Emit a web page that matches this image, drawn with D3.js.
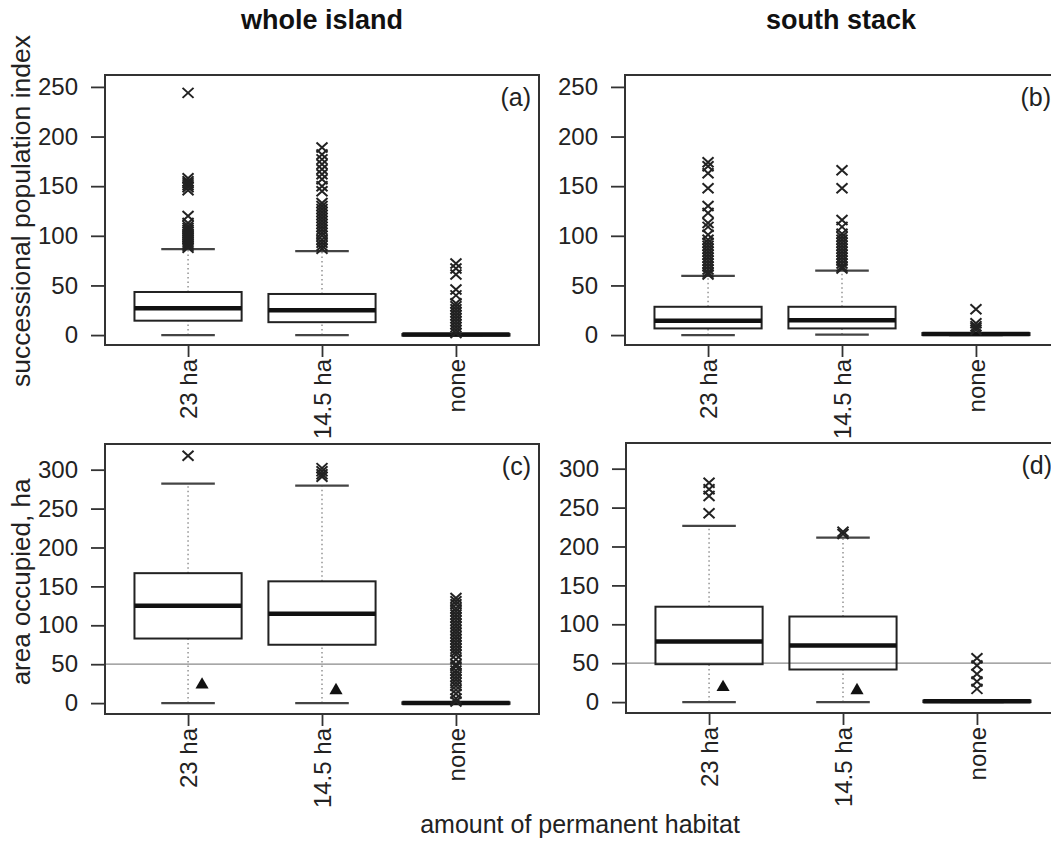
<!DOCTYPE html>
<html>
<head>
<meta charset="utf-8">
<script src="https://cdnjs.cloudflare.com/ajax/libs/d3/7.8.5/d3.min.js"></script>
<style>
    body { margin: 0; background: #fff; }
    svg { display: block; font-family: "Liberation Sans", Arial, sans-serif; }
</style>
</head>
<body>
<div id="chart"></div>
<script>

// categories on the x axis
const groups = ["23 ha", "14.5 ha", "none"];

// box stats per group: [lower whisker, q1, median, q3, upper whisker]
const statsA = [[0, 14.5, 27, 43.4, 86.5], [0, 13, 25, 41.4, 84.5], [0, 0, 0.5, 1, 1]];
const statsB = [[0, 6.7, 14.4, 28.5, 59.7], [0.5, 6.7, 15, 28.5, 65], [0, 0, 1, 2, 2]];
const statsC = [[0, 83, 125, 167, 282], [0, 75, 115, 156.5, 279.5], [0, 0, 0, 1, 1]];
const statsD = [[0, 48.7, 78, 122.6, 226.5], [0, 41.9, 72.6, 110, 211.5], [0, 0, 1, 2, 2]];

// outliers per group
const outliersA = [
    [244, 158, 155, 153, 151, 149, 146, 120, 113, 110, 108, 106, 104, 102, 100, 98, 96, 94, 92, 90, 88],
    [189, 182, 177, 172, 167, 162, 157, 150, 145, 133, 130, 127, 124, 121, 118, 115, 112, 109, 106, 103, 100, 96, 93, 90, 87],
    [72, 67, 61, 46, 40, 32, 29, 26, 23, 20, 17, 14, 11, 8, 5, 2]
];
const outliersB = [
    [174, 170, 163, 148, 130, 123, 113, 109, 101, 96, 93, 90, 87, 84, 81, 78, 75, 72, 69, 66, 63, 61],
    [166, 148, 116, 109, 102, 99, 96, 93, 90, 87, 84, 81, 78, 75, 72, 69, 67],
    [26, 12, 9, 7, 5]
];
const outliersC = [
    [318],
    [302, 298, 294, 291],
    [135, 131, 127, 122, 118, 114, 110, 106, 102, 98, 94, 90, 86, 82, 78, 74, 70, 66, 62, 56, 50, 47, 42, 38, 34, 30, 26, 22, 17, 12, 6, 2]
];
const outliersD = [
    [282, 273.5, 265, 242.7],
    [219, 216],
    [56.4, 47, 36, 26.5, 17]
];

// mean markers (triangles), only in the area panels
const meansC = [23.6, 16.3];
const meansD = [19, 15];

// axis ticks and limits
const ticksTop = [0, 50, 100, 150, 200, 250];
const ticksBottom = [0, 50, 100, 150, 200, 250, 300];
const domainTop = [-10, 262];
const domainBottom = [-14, 333];


class BoxPanel {

    constructor(_svg, _frame, _yDomain, _yTicks, _stats, _outliers, _means, _label, _refLine) {
        this.svg = _svg;
        this.frame = _frame;
        this.yDomain = _yDomain;
        this.yTicks = _yTicks;
        this.stats = _stats;
        this.outliers = _outliers;
        this.means = _means;
        this.label = _label;
        this.refLine = _refLine;

        this.initVis();
    }

    initVis() {
        let vis = this;
        let f = vis.frame;

        vis.x = d3.scaleLinear().domain([0.38, 3.62]).range([f.x, f.x + f.w]);
        vis.y = d3.scaleLinear().domain(vis.yDomain).range([f.y + f.h, f.y]);
        vis.unit = vis.x(2) - vis.x(1);

        vis.g = vis.svg.append("g");

        // y axis
        vis.g.append("g")
            .attr("transform", `translate(${f.x},0)`)
            .call(d3.axisLeft(vis.y).tickValues(vis.yTicks).tickSize(14).tickPadding(13))
            .call(g => g.select(".domain").remove())
            .call(g => g.selectAll("line").attr("stroke", "#333").attr("stroke-width", 1.8))
            .call(g => g.selectAll("text").attr("font-size", 24).attr("fill", "#222").attr("font-family", null));

        // x axis with rotated labels
        vis.g.append("g")
            .attr("transform", `translate(0,${f.y + f.h})`)
            .call(d3.axisBottom(vis.x).tickValues([1, 2, 3]).tickFormat(d => groups[d - 1]).tickSize(12))
            .call(g => g.select(".domain").remove())
            .call(g => g.selectAll("line").attr("stroke", "#333").attr("stroke-width", 1.8))
            .call(g => g.selectAll("text")
                .attr("font-size", 24).attr("fill", "#222").attr("font-family", null)
                .attr("transform", "rotate(-90)")
                .attr("x", -14).attr("y", 0).attr("dy", "0.35em")
                .style("text-anchor", "end"));

        if (vis.refLine !== null) {
            vis.g.append("line")
                .attr("x1", f.x).attr("x2", f.x + f.w)
                .attr("y1", vis.y(vis.refLine)).attr("y2", vis.y(vis.refLine))
                .attr("stroke", "#8a8a8a").attr("stroke-width", 1.3);
        }

        vis.updateVis();
    }

    updateVis() {
        let vis = this;
        let half = 0.4 * vis.unit;
        let cap = 0.2 * vis.unit;

        let box = vis.g.selectAll(".box")
            .data(vis.stats)
            .enter()
            .append("g")
            .attr("class", "box")
            .attr("transform", (d, i) => `translate(${vis.x(i + 1)},0)`);

        // dotted whiskers
        box.append("line")
            .attr("y1", d => vis.y(d[3])).attr("y2", d => vis.y(d[4]))
            .attr("stroke", "#777").attr("stroke-width", 1.2).attr("stroke-dasharray", "1.5,3");
        box.append("line")
            .attr("y1", d => vis.y(d[0])).attr("y2", d => vis.y(d[1]))
            .attr("stroke", "#777").attr("stroke-width", 1.2).attr("stroke-dasharray", "1.5,3");

        // staples
        [0, 4].forEach(k => {
            box.append("line")
                .attr("x1", -cap).attr("x2", cap)
                .attr("y1", d => vis.y(d[k])).attr("y2", d => vis.y(d[k]))
                .attr("stroke", "#444").attr("stroke-width", 2.2);
        });

        box.append("rect")
            .attr("x", -half).attr("width", 2 * half)
            .attr("y", d => vis.y(d[3]))
            .attr("height", d => Math.max(1.5, vis.y(d[1]) - vis.y(d[3])))
            .attr("fill", "none").attr("stroke", "#222").attr("stroke-width", 2);

        box.append("line")
            .attr("x1", -half).attr("x2", half)
            .attr("y1", d => vis.y(d[2])).attr("y2", d => vis.y(d[2]))
            .attr("stroke", "#111").attr("stroke-width", 4.5);

        // outliers drawn as x
        vis.outliers.forEach((vals, i) => {
            vis.g.selectAll(null)
                .data(vals)
                .enter()
                .append("path")
                .attr("transform", d => `translate(${vis.x(i + 1)},${vis.y(d)})`)
                .attr("d", "M-5.5,-5L5.5,5M-5.5,5L5.5,-5")
                .attr("stroke", "#222").attr("stroke-width", 2).attr("fill", "none");
        });

        // mean triangles, shifted right of the box centre
        vis.g.selectAll(".mean")
            .data(vis.means)
            .enter()
            .append("path")
            .attr("class", "mean")
            .attr("transform", (d, i) => `translate(${vis.x(i + 1) + 14},${vis.y(d)})`)
            .attr("d", d3.symbol(d3.symbolTriangle).size(75))
            .attr("fill", "#111");

        // frame and panel letter
        let f = vis.frame;
        vis.g.append("rect")
            .attr("x", f.x).attr("y", f.y).attr("width", f.w).attr("height", f.h)
            .attr("fill", "none").attr("stroke", "#333").attr("stroke-width", 2);

        vis.g.append("text")
            .attr("x", f.x + f.w - 8).attr("y", f.y + 31)
            .attr("text-anchor", "end").attr("font-size", 25).attr("fill", "#222")
            .text(vis.label);
    }
}


let svg = d3.select("#chart")
    .append("svg")
    .attr("width", 1051)
    .attr("height", 841);

new BoxPanel(svg, {x: 105, y: 75, w: 434, h: 270}, domainTop, ticksTop, statsA, outliersA, [], "(a)", null);
new BoxPanel(svg, {x: 625, y: 75, w: 434, h: 270}, domainTop, ticksTop, statsB, outliersB, [], "(b)", null);
new BoxPanel(svg, {x: 105, y: 444, w: 434, h: 270}, domainBottom, ticksBottom, statsC, outliersC, meansC, "(c)", 50);
new BoxPanel(svg, {x: 626, y: 443, w: 434, h: 270}, domainBottom, ticksBottom, statsD, outliersD, meansD, "(d)", 50);

// column titles
svg.append("text").attr("x", 322).attr("y", 29).attr("text-anchor", "middle")
    .attr("font-size", 27).attr("font-weight", "bold").attr("fill", "#111").text("whole island");
svg.append("text").attr("x", 841).attr("y", 29).attr("text-anchor", "middle")
    .attr("font-size", 27).attr("font-weight", "bold").attr("fill", "#111").text("south stack");

// axis titles
svg.append("text").attr("transform", "translate(30,211) rotate(-90)").attr("text-anchor", "middle")
    .attr("font-size", 26.5).attr("fill", "#222").text("successional population index");
svg.append("text").attr("transform", "translate(30,582) rotate(-90)").attr("text-anchor", "middle")
    .attr("font-size", 26).attr("fill", "#222").text("area occupied, ha");
svg.append("text").attr("x", 580).attr("y", 833).attr("text-anchor", "middle")
    .attr("font-size", 25).attr("fill", "#222").text("amount of permanent habitat");

</script>
</body>
</html>
